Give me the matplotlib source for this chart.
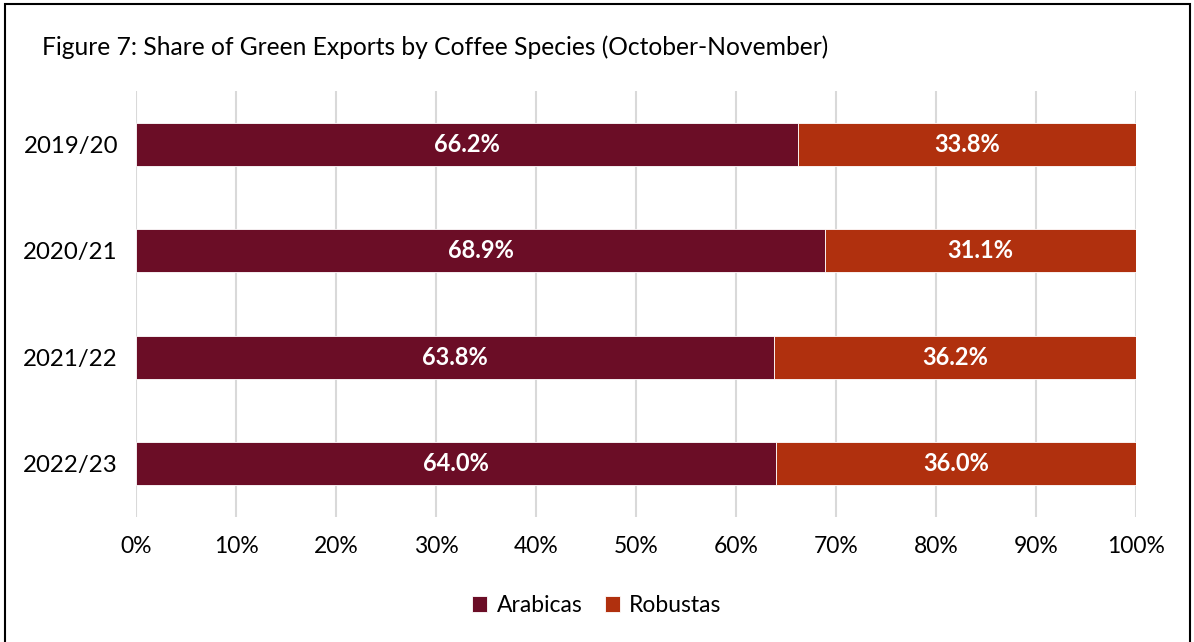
import matplotlib.pyplot as plt
from matplotlib.patches import Rectangle

# share of green exports, October-November
seasons = ["2019/20", "2020/21", "2021/22", "2022/23"]
arabicas = [66.2, 68.9, 63.8, 64.0]
robustas = [33.8, 31.1, 36.2, 36.0]
xticks = [0, 10, 20, 30, 40, 50, 60, 70, 80, 90, 100]

ARABICA_COLOR = "#6B0D26"
ROBUSTA_COLOR = "#B0300E"

plt.rcParams['font.family'] = ['Lato', 'DejaVu Sans']

fig = plt.figure(figsize=(11.94, 6.42), dpi=100)
ax = fig.add_axes([0.1139, 0.1947, 0.8375, 0.6636])

y = list(range(len(seasons)))
ax.barh(y, arabicas, height=0.4, color=ARABICA_COLOR, label="Arabicas",
        edgecolor="white", linewidth=0.6)
ax.barh(y, robustas, left=arabicas, height=0.4, color=ROBUSTA_COLOR,
        label="Robustas", edgecolor="white", linewidth=0.6)

# value labels in the middle of each segment
for i in y:
    ax.text(arabicas[i] / 2, i, f"{arabicas[i]:.1f}%", ha="center", va="center",
            color="white", fontsize=17, fontweight="bold")
    ax.text(arabicas[i] + robustas[i] / 2, i, f"{robustas[i]:.1f}%", ha="center",
            va="center", color="white", fontsize=17, fontweight="bold")

ax.set_xlim(0, 100)
ax.set_ylim(len(seasons) - 0.5, -0.5)
ax.set_xticks(xticks)
ax.set_xticklabels([f"{t}%" for t in xticks], fontsize=16.5)
ax.set_yticks(y)
ax.set_yticklabels(seasons, fontsize=17.3)
ax.tick_params(length=0, pad=14)
ax.tick_params(axis="y", pad=13)
ax.grid(axis="x", color="#D9D9D9", linewidth=1.5)
ax.set_axisbelow(True)
for s in ax.spines.values():
    s.set_visible(False)

fig.text(0.035, 0.927, "Figure 7: Share of Green Exports by Coffee Species (October-November)",
         fontsize=17.7, va="center", ha="left")

fig.legend(*ax.get_legend_handles_labels(), loc="center", bbox_to_anchor=(0.5, 0.057),
           ncol=2, frameon=False, fontsize=16.5, handlelength=0.65, handleheight=0.65,
           handletextpad=0.4, columnspacing=1.0)

# outer frame
fig.patches.append(Rectangle((0.004, -0.05), 0.993, 1.044, transform=fig.transFigure,
                             fill=False, edgecolor="black", linewidth=1.5))

fig.savefig("out.png", dpi=100)
